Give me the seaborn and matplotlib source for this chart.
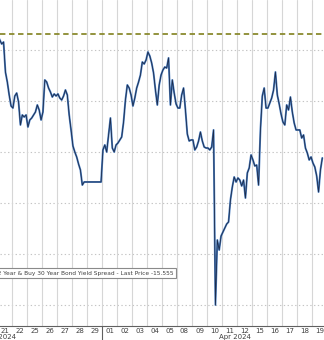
import numpy as np
import pandas as pd
import matplotlib
matplotlib.use("Agg")
import matplotlib.pyplot as plt
import seaborn as sns
from matplotlib import font_manager

# ---- data ----
day_labels = ["21", "22", "25", "26", "27", "28", "29", "01", "02", "03", "04",
              "05", "08", "09", "10", "11", "12", "15", "16", "17", "18", "19"]
month_labels = ["Mar 2024", "Apr 2024"]

mar21 = [-3.60, -3.99, -4.38, -4.19, -7.13, -8.11, -9.38, -10.46]
mar22 = [-10.66, -9.48, -9.19, -10.07, -12.32, -11.34, -11.54, -11.34]
mar25 = [-12.52, -11.83, -11.64, -11.34, -11.05, -10.36, -10.85, -11.83]
mar26 = [-11.05, -7.91, -8.11, -8.70, -9.09, -9.58, -9.28, -9.48]
mar27 = [-9.28, -9.68, -9.87, -9.48, -8.89, -9.38, -11.34, -12.81]
mar28 = [-14.38, -14.97, -15.46, -16.15, -16.74, -18.21, -17.91, -17.91]
mar29 = [-17.91, -17.91, -17.91, -17.91, -17.91, -17.91, -17.91, -17.91]
apr01 = [-14.77, -14.28, -14.97, -13.30, -11.64, -14.58, -14.97, -14.28]
apr02 = [-14.09, -13.79, -13.50, -12.03, -9.87, -8.40, -8.70, -9.38]
apr03 = [-10.46, -9.68, -8.70, -8.11, -7.42, -6.15, -6.34, -5.95]
apr04 = [-5.17, -5.56, -6.25, -7.23, -8.89, -10.36, -8.40, -7.42]
apr05 = [-6.93, -6.64, -6.74, -5.75, -10.36, -7.91, -9.19, -10.26]
apr08 = [-10.66, -10.66, -9.38, -8.70, -10.85, -13.21, -13.89, -13.79]
apr09 = [-13.79, -14.77, -14.48, -13.89, -13.01, -13.89, -14.48, -14.58]
apr10 = [-14.58, -14.77, -14.48, -12.81, -29.97, -23.60, -24.58, -23.21]
apr11 = [-22.81, -22.42, -22.03, -21.83, -19.68, -18.40, -17.42, -17.91]
apr12 = [-17.52, -17.72, -18.30, -17.72, -19.48, -17.03, -16.54, -15.26]
apr15 = [-15.75, -16.34, -16.25, -18.21, -12.81, -9.48, -8.70, -10.66]
apr16 = [-10.66, -10.17, -9.68, -8.89, -7.13, -9.38, -10.26, -11.25]
apr17 = [-12.03, -12.32, -10.36, -10.85, -9.58, -11.05, -12.13, -12.81]
apr18 = [-12.81, -12.81, -13.60, -13.30, -14.58, -15.07, -15.75, -15.46]
apr19 = [-16.05, -16.44, -17.32, -18.89, -16.74, -15.555]

sessions = [mar21, mar22, mar25, mar26, mar27, mar28, mar29, apr01, apr02, apr03,
            apr04, apr05, apr08, apr09, apr10, apr11, apr12, apr15, apr16, apr17,
            apr18, apr19]

grid_levels = [-5, -10, -15, -20, -25, -30]
ref_level = -3.4
last_price = -15.555
series_name = "Sell 2 Year & Buy 30 Year Bond Yield Spread"

# ---- figure ----
sns.set_theme(style="white")
plt.rcParams["font.family"] = ["DejaVu Sans"]

names = {f.name for f in font_manager.fontManager.ttflist}
narrow = "Liberation Sans Narrow" if "Liberation Sans Narrow" in names else None

W, H = 324, 340
fig = plt.figure(figsize=(W / 100, H / 100), dpi=100)
fig.patch.set_facecolor("white")
ax = fig.add_axes([0, 14 / H, 1, 326 / H])
ax.set_facecolor("white")

rows = []
for i, vals in enumerate(sessions):
    for k, v in enumerate(vals):
        rows.append((i + (k + 0.5) / 8, v))
df = pd.DataFrame(rows, columns=["t", "spread"])

for g in grid_levels:
    ax.axhline(g, color="#c4c4c4", lw=0.8, ls=(0, (1.2, 2.2)), zorder=0)
for i in range(1, len(day_labels)):
    ax.axvline(i, color="#d6d6d6", lw=0.8, zorder=0)

sns.lineplot(data=df, x="t", y="spread", ax=ax, color="#4f82c4", lw=1.4,
             estimator=None, sort=False, zorder=2)
sns.lineplot(data=df, x="t", y="spread", ax=ax, color="#1c2c4c", lw=0.6,
             estimator=None, sort=False, zorder=3)

ax.axhline(ref_level, color="#8a8a2e", lw=1.3, ls=(0, (3, 2)), zorder=4)

ax.set_xlim(0.2, 21.8)
ax.set_ylim(-32.03, -0.07)
ax.set_xticks([i + 0.5 for i in range(len(day_labels))])
ax.set_xticklabels(day_labels, fontsize=5, color="#404040")
ax.tick_params(axis="x", length=0, pad=1.2)
ax.set_yticks([])
ax.set_xlabel("")
ax.set_ylabel("")
for s in ["top", "left", "right"]:
    ax.spines[s].set_visible(False)
ax.spines["bottom"].set_color("#606060")
ax.spines["bottom"].set_linewidth(0.8)

# month separator tick
ax.plot([7, 7], [0, -14 / 326], transform=ax.get_xaxis_transform(),
        color="#606060", lw=0.8, clip_on=False)

# month labels
fig.text(16 / W, 1 - 337 / H, month_labels[0], ha="right", va="center",
         fontsize=5, color="#404040")
fig.text(235 / W, 1 - 337 / H, month_labels[1], ha="center", va="center",
         fontsize=5, color="#404040")

# legend box
if narrow:
    lg_kw = dict(family=[narrow, "DejaVu Sans"], fontsize=5.5)
else:
    lg_kw = dict(family=["DejaVu Sans"], fontsize=4.25)
fig.text(174 / W, 1 - 273 / H, f"{series_name} - Last Price {last_price}",
         ha="right", va="center", color="#404040",
         bbox=dict(boxstyle="square,pad=0.4", fc="white", ec="#8a8a8a", lw=0.8),
         **lg_kw)

fig.savefig("out.png", dpi=100, facecolor="white")
